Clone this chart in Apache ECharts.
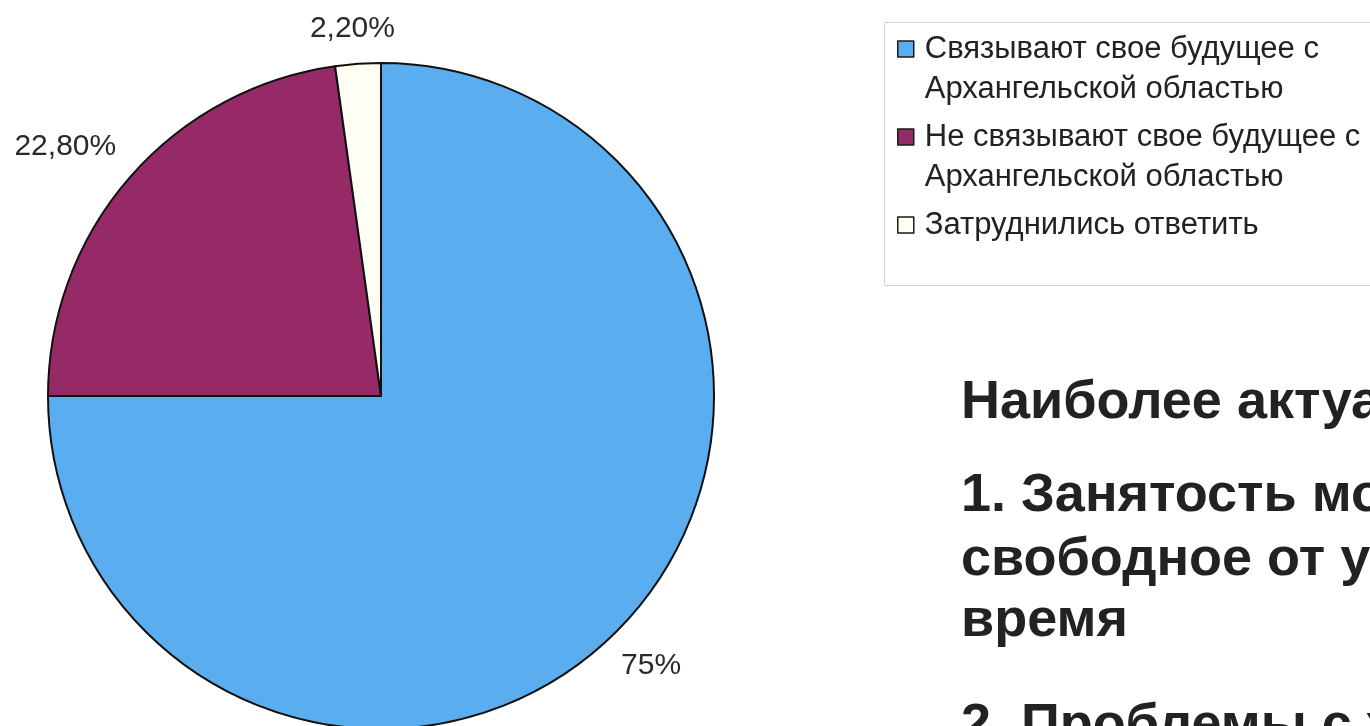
<!DOCTYPE html>
<html>
<head>
<meta charset="utf-8">
<script src="https://cdn.jsdelivr.net/npm/echarts@6/dist/echarts.min.js"></script>
<style>
  html, body { margin: 0; padding: 0; background: #fff; }
  #pie1 { width: 1370px; height: 726px; }
</style>
</head>
<body>
<div id="pie1"></div>
<script>
// data
var categories = [
  'Связывают свое будущее с\nАрхангельской областью',
  'Не связывают свое будущее с\nАрхангельской областью',
  'Затруднились ответить'
];
var values = [75, 22.8, 2.2];
var valueLabels = ['75%', '22,80%', '2,20%'];
var colors = ['#5aaeef', '#952a66', '#fffff4'];

var slideLines = [
  'Наиболее актуальные проблемы',
  '1. Занятость молодежи в',
  'свободное от учебы',
  'время',
  '2. Проблемы с жильем'
];

var FONT = "'Liberation Sans', Arial, sans-serif";

// label tweaks (px) per slice
var labelLens = [49, 67, 37];
var labelNudge = [[0, 0], [-14, 13], [-3, 2]];

var pie1 = document.getElementById('pie1');
var Chart_pie1 = echarts.init(pie1);
var pie1_option;

var pieData = categories.map(function (name, i) {
  return {
    name: name,
    value: values[i],
    itemStyle: { color: colors[i] },
    labelLine: { length: labelLens[i], length2: 0 }
  };
});

var slideYs = [403, 496, 560, 621, 726];
var slideText = slideLines.map(function (t, i) {
  return {
    type: 'text',
    x: 961,
    y: slideYs[i],
    style: {
      text: t,
      font: 'bold 54px ' + FONT,
      fill: '#222',
      verticalAlign: 'middle'
    }
  };
});

pie1_option = {
  animation: false,
  backgroundColor: '#fff',
  legend: {
    orient: 'vertical',
    left: 897,
    top: -11,
    padding: 0,
    itemGap: -32,
    itemWidth: 16,
    itemHeight: 16,
    icon: 'rect',
    selectedMode: false,
    data: categories,
    // blank line on top so the first text line sits next to the icon
    formatter: function (name) {
      return name.indexOf('\n') >= 0 ? '\n' + name : '\n' + name + '\n';
    },
    itemStyle: { borderColor: '#1a1a1a', borderWidth: 1.5 },
    textStyle: {
      fontFamily: FONT,
      fontSize: 31,
      lineHeight: 40,
      color: '#222',
      padding: [0, 0, 0, 6]
    }
  },
  graphic: [
    {
      type: 'rect',
      shape: { x: 884.5, y: 22.5, width: 600, height: 263 },
      style: { fill: 'none', stroke: '#d4d4d4', lineWidth: 1 },
      z: -1
    }
  ].concat(slideText),
  series: [
    {
      name: 'Будущее',
      type: 'pie',
      center: [381, 396],
      radius: 333,
      startAngle: 90,
      clockwise: true,
      avoidLabelOverlap: false,
      data: pieData,
      itemStyle: {
        borderColor: '#111',
        borderWidth: 2
      },
      label: {
        show: true,
        position: 'outside',
        distanceToLabelLine: 0,
        fontFamily: FONT,
        fontSize: 30,
        color: '#2a2a2a',
        formatter: function (p) { return valueLabels[p.dataIndex]; }
      },
      labelLine: { show: false },
      labelLayout: function (p) {
        return { align: 'center', dx: labelNudge[p.dataIndex][0], dy: labelNudge[p.dataIndex][1] };
      },
      emphasis: { disabled: true }
    }
  ]
};

pie1_option && Chart_pie1.setOption(pie1_option);
</script>
</body>
</html>
